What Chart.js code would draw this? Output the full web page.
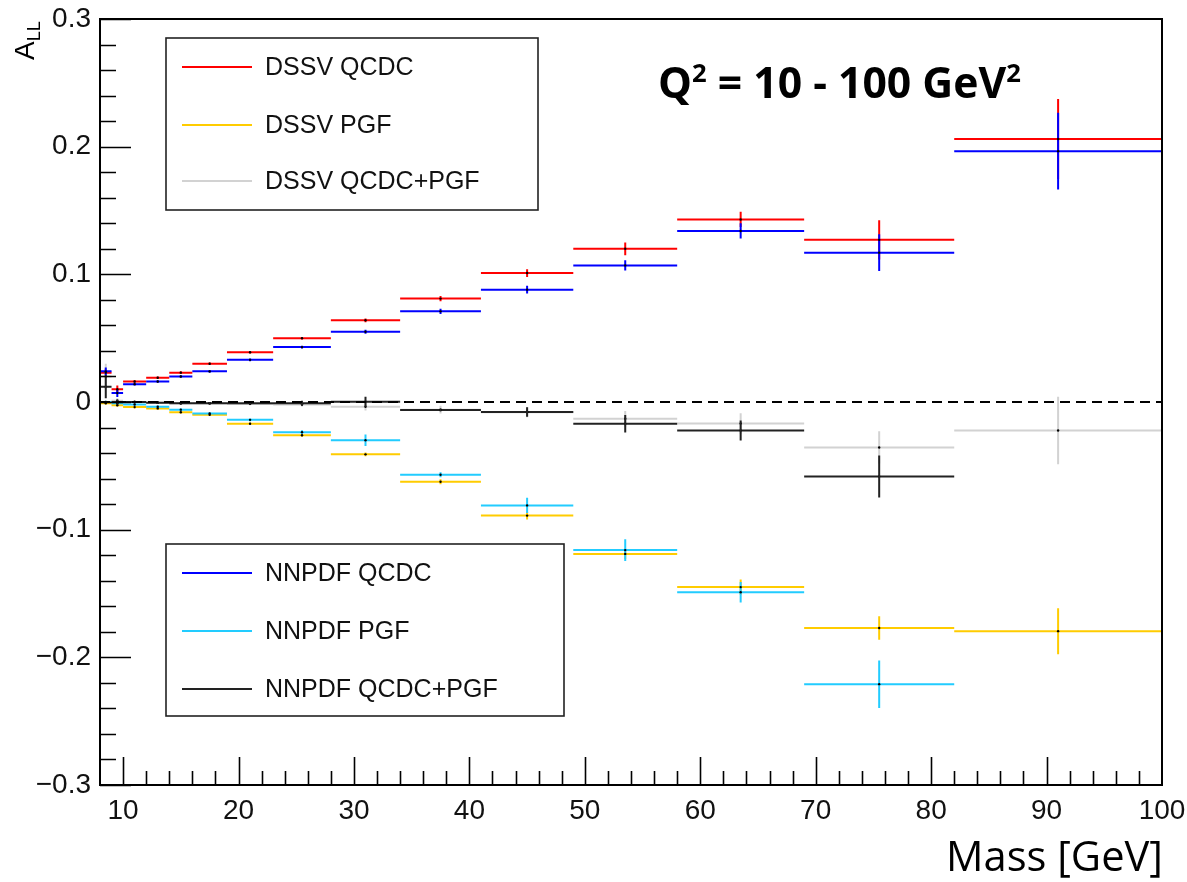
<!DOCTYPE html>
<html>
<head>
<meta charset="utf-8">
<title>A_LL vs Mass</title>
<script src="https://cdn.jsdelivr.net/npm/chart.js@4.4.1/dist/chart.umd.min.js"></script>
<style>
  html, body { margin: 0; padding: 0; background: #ffffff; }
  #wrap { width: 1187px; height: 882px; }
</style>
</head>
<body>
<div id="wrap"><canvas id="chart" width="1187" height="882"></canvas></div>
<script>
// Mass bin edges [GeV]
const binEdges = [8, 9, 10, 12, 14, 16, 19, 23, 28, 34, 41, 49, 58, 69, 82, 100];

// Double spin asymmetry A_LL per mass bin, with statistical errors
const dssvQCDC      = [0.023, 0.010, 0.016, 0.019, 0.023, 0.030, 0.039, 0.050, 0.064, 0.081, 0.101, 0.120, 0.143, 0.127, 0.206];
const dssvQCDCErr   = [0.003, 0.003, 0.001, 0.001, 0.001, 0.001, 0.001, 0.001, 0.0015, 0.002, 0.003, 0.005, 0.006, 0.0154, 0.0314];
const dssvPGF       = [-0.001, -0.0025, -0.004, -0.005, -0.008, -0.010, -0.017, -0.026, -0.041, -0.0625, -0.089, -0.119, -0.145, -0.177, -0.1795];
const dssvPGFErr    = [0.001, 0.001, 0.001, 0.001, 0.001, 0.001, 0.001, 0.0012, 0.0015, 0.002, 0.003, 0.004, 0.006, 0.0092, 0.018];
const dssvSum       = [0.020, 0.001, 0.000, -0.0005, -0.001, -0.001, -0.0015, -0.002, -0.0037, -0.006, -0.008, -0.0131, -0.0168, -0.0356, -0.0223];
const dssvSumErr    = [0.010, 0.002, 0.001, 0.001, 0.001, 0.001, 0.001, 0.0015, 0.003, 0.003, 0.004, 0.006, 0.008, 0.0126, 0.0265];
const nnpdfQCDC     = [0.024, 0.007, 0.014, 0.016, 0.020, 0.024, 0.033, 0.043, 0.055, 0.071, 0.088, 0.107, 0.134, 0.117, 0.1965];
const nnpdfQCDCErr  = [0.003, 0.003, 0.001, 0.001, 0.001, 0.001, 0.001, 0.001, 0.0015, 0.002, 0.003, 0.004, 0.006, 0.0144, 0.030];
const nnpdfPGF      = [0.000, -0.001, -0.002, -0.0037, -0.006, -0.009, -0.014, -0.0236, -0.030, -0.057, -0.081, -0.116, -0.149, -0.221, null];
const nnpdfPGFErr   = [0.001, 0.001, 0.001, 0.001, 0.001, 0.001, 0.001, 0.0015, 0.0045, 0.002, 0.006, 0.0085, 0.008, 0.0186, null];
const nnpdfSum      = [0.012, 0.000, 0.000, -0.0005, -0.001, -0.001, -0.001, -0.001, 0.0002, -0.0063, -0.0078, -0.017, -0.0223, -0.0584, null];
const nnpdfSumErr   = [0.009, 0.002, 0.001, 0.001, 0.001, 0.001, 0.001, 0.002, 0.004, 0.001, 0.0037, 0.0069, 0.0078, 0.0164, null];

// Axis tick values
const xTickValues = [10, 20, 30, 40, 50, 60, 70, 80, 90, 100];
const yTickValues = [-0.3, -0.2, -0.1, 0, 0.1, 0.2, 0.3];

// Legend entries (two boxes)
const legendTop    = [['DSSV QCDC', '#ff0000'], ['DSSV PGF', '#ffcc00'], ['DSSV QCDC+PGF', '#d2d2d2']];
const legendBottom = [['NNPDF QCDC', '#0000ff'], ['NNPDF PGF', '#22ccff'], ['NNPDF QCDC+PGF', '#222222']];

const TICK_FONT = '"Liberation Sans", Arial, Helvetica, sans-serif';

// One horizontal segment per bin, separated by gaps
function binSegments(values) {
  const pts = [];
  values.forEach((v, i) => {
    if (v === null) return;
    pts.push({ x: binEdges[i], y: v }, { x: binEdges[i + 1], y: v }, { x: binEdges[i + 1], y: null });
  });
  return pts;
}
// Vertical error bar at each bin centre
function errorSegments(values, errs) {
  const pts = [];
  values.forEach((v, i) => {
    if (v === null || errs[i] === null) return;
    const c = (binEdges[i] + binEdges[i + 1]) / 2;
    pts.push({ x: c, y: v - errs[i] }, { x: c, y: v + errs[i] }, { x: c, y: null });
  });
  return pts;
}
function centres(values) {
  const pts = [];
  values.forEach((v, i) => {
    if (v === null) return;
    pts.push({ x: (binEdges[i] + binEdges[i + 1]) / 2, y: v });
  });
  return pts;
}

const series = [
  { vals: dssvQCDC,  errs: dssvQCDCErr,  color: '#ff0000', order: 12 },
  { vals: dssvPGF,   errs: dssvPGFErr,   color: '#ffcc00', order: 10 },
  { vals: dssvSum,   errs: dssvSumErr,   color: '#d2d2d2', order: 8 },
  { vals: nnpdfQCDC, errs: nnpdfQCDCErr, color: '#0000ff', order: 6 },
  { vals: nnpdfPGF,  errs: nnpdfPGFErr,  color: '#22ccff', order: 4 },
  { vals: nnpdfSum,  errs: nnpdfSumErr,  color: '#222222', order: 2 }
];

const datasets = [];
series.forEach(s => {
  datasets.push({
    data: binSegments(s.vals), showLine: true, spanGaps: false,
    borderColor: s.color, borderWidth: 2, pointRadius: 0, order: s.order
  });
  datasets.push({
    data: errorSegments(s.vals, s.errs), showLine: true, spanGaps: false,
    borderColor: s.color, borderWidth: 2, pointRadius: 0, order: s.order - 1
  });
});
// small markers at bin centres
datasets.push({
  data: [].concat(...series.map(s => centres(s.vals))),
  showLine: false, pointRadius: 1.2, pointBackgroundColor: '#000', pointBorderWidth: 0, order: 1
});
// dashed zero line
datasets.push({
  data: [{ x: 8, y: 0 }, { x: 100, y: 0 }], showLine: true,
  borderColor: '#000', borderWidth: 2, borderDash: [10, 6], pointRadius: 0, order: 0
});

// Frame, inward ticks, legends and titles
const decorations = {
  id: 'decorations',
  afterDraw(chart) {
    const { ctx, chartArea: a, scales: { x, y } } = chart;
    ctx.save();
    ctx.strokeStyle = '#000';
    ctx.lineWidth = 2;
    ctx.strokeRect(a.left, a.top, a.right - a.left, a.bottom - a.top);

    // y ticks: major every 0.1, minor every 0.02
    ctx.lineWidth = 1.6;
    ctx.beginPath();
    for (let k = -15; k <= 15; k++) {
      const py = Math.round(y.getPixelForValue(k * 0.02)) + 0.5;
      const len = (k % 5 === 0) ? 31 : 16;
      ctx.moveTo(a.left, py); ctx.lineTo(a.left + len, py);
    }
    // x ticks: major every 10, minor every 2
    for (let v = 10; v < 100; v += 2) {
      const px = Math.round(x.getPixelForValue(v)) + 0.5;
      const len = (v % 10 === 0) ? 28 : 14;
      ctx.moveTo(px, a.bottom); ctx.lineTo(px, a.bottom - len);
    }
    ctx.stroke();

    // legend boxes
    function drawLegend(box, entries, rows) {
      ctx.lineWidth = 1.6;
      ctx.strokeStyle = '#222';
      ctx.strokeRect(box.l, box.t, box.r - box.l, box.b - box.t);
      ctx.font = '25px ' + TICK_FONT;
      ctx.textBaseline = 'middle';
      ctx.textAlign = 'left';
      entries.forEach((e, i) => {
        const ry = rows[i];
        ctx.strokeStyle = e[1];
        ctx.lineWidth = 2;
        ctx.beginPath(); ctx.moveTo(182, ry); ctx.lineTo(252, ry); ctx.stroke();
        ctx.fillStyle = '#111';
        ctx.fillText(e[0], 265, ry + 1);
      });
    }
    drawLegend({ l: 166, t: 38, r: 538, b: 210 }, legendTop, [67, 125, 181]);
    drawLegend({ l: 166, t: 544, r: 564, b: 716 }, legendBottom, [573, 631, 689]);

    // Q^2 range label
    const qParts = [['Q', false], ['2', true], [' = 10 - 100 GeV', false], ['2', true]];
    const fam = '"Open Sans", "Noto Sans", sans-serif';
    let size = 42;
    const widthAt = s => qParts.reduce((w, p) => {
      ctx.font = 'bold ' + (p[1] ? s * 0.6 : s) + 'px ' + fam;
      return w + ctx.measureText(p[0]).width;
    }, 0);
    size = size * 363 / widthAt(size);
    let cx = 658;
    ctx.fillStyle = '#000';
    ctx.textBaseline = 'alphabetic';
    qParts.forEach(p => {
      ctx.font = 'bold ' + (p[1] ? size * 0.6 : size) + 'px ' + fam;
      ctx.fillText(p[0], cx, p[1] ? 98 - size * 0.38 : 98);
      cx += ctx.measureText(p[0]).width;
    });

    // x-axis title
    ctx.font = '38px ' + fam;
    const ms = 38 * 217 / ctx.measureText('Mass [GeV]').width;
    ctx.font = ms + 'px ' + fam;
    ctx.textAlign = 'right';
    ctx.fillText('Mass [GeV]', 1163, 871);

    // y-axis title A_LL, rotated
    ctx.translate(34, 60);
    ctx.rotate(-Math.PI / 2);
    ctx.textAlign = 'left';
    ctx.font = '28px ' + TICK_FONT;
    ctx.fillText('A', 0, 0);
    const aw = ctx.measureText('A').width;
    ctx.font = '18px ' + TICK_FONT;
    ctx.fillText('LL', aw, 6);
    ctx.restore();
  }
};

// keep the plot frame at fixed pixel bounds regardless of label overhang
function noPadding(s) {
  s.paddingTop = 0; s.paddingBottom = 0; s.paddingLeft = 0; s.paddingRight = 0;
}

new Chart(document.getElementById('chart'), {
  type: 'scatter',
  data: { datasets },
  options: {
    responsive: false,
    animation: false,
    events: [],
    layout: { padding: { top: 19, right: 25, left: 0, bottom: 0 } },
    plugins: { legend: { display: false }, tooltip: { enabled: false } },
    scales: {
      x: {
        type: 'linear', min: 8, max: 100,
        afterBuildTicks: s => { s.ticks = xTickValues.map(v => ({ value: v })); },
        afterFit: s => { s.height = 97; noPadding(s); },
        grid: { display: false, drawTicks: false },
        border: { display: false },
        ticks: {
          color: '#111', padding: 9, maxRotation: 0, autoSkip: false,
          font: { family: TICK_FONT, size: 28 },
          callback: v => String(v)
        }
      },
      y: {
        type: 'linear', min: -0.3, max: 0.3,
        afterBuildTicks: s => { s.ticks = yTickValues.map(v => ({ value: v })); },
        afterFit: s => { s.width = 100; noPadding(s); },
        grid: { display: false, drawTicks: false },
        border: { display: false },
        ticks: {
          color: '#111', padding: 9, autoSkip: false,
          font: { family: TICK_FONT, size: 28 },
          callback: v => {
            const r = Math.round(v * 10) / 10;
            if (r === 0) return '0';
            return (r < 0 ? '\u2212' : '') + Math.abs(r).toFixed(1);
          }
        }
      }
    }
  },
  plugins: [decorations]
});
</script>
</body>
</html>
